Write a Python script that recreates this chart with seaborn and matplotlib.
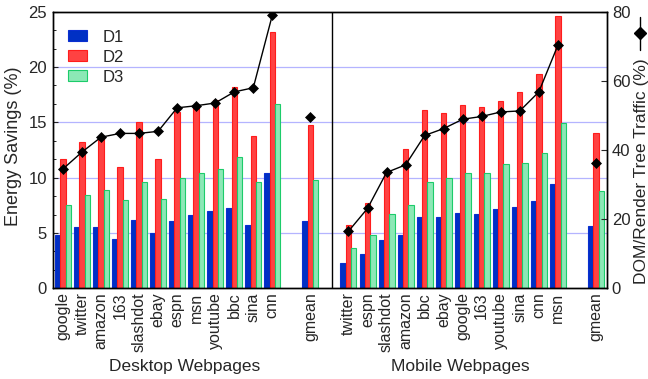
import numpy as np
import pandas as pd
import matplotlib
matplotlib.use("Agg")
import matplotlib.pyplot as plt
from matplotlib.lines import Line2D
from matplotlib.patches import Patch
from matplotlib.ticker import MultipleLocator, FixedLocator
import seaborn as sns

# ---------------- data ----------------
desktop_pages = ['google', 'twitter', 'amazon', '163', 'slashdot', 'ebay', 'espn',
                 'msn', 'youtube', 'bbc', 'sina', 'cnn']
d1_desktop = [4.8, 5.5, 5.5, 4.5, 6.2, 5.0, 6.1, 6.6, 6.95, 7.3, 5.7, 10.4]
d2_desktop = [11.7, 13.2, 13.6, 11.0, 15.0, 11.7, 15.9, 16.6, 17.0, 18.15, 13.8, 23.2]
d3_desktop = [7.5, 8.45, 8.85, 8.0, 9.6, 8.05, 9.95, 10.45, 10.75, 11.85, 9.6, 16.65]
traffic_desktop = [34.5, 39.4, 43.7, 44.8, 44.8, 45.4, 52.2, 52.8, 53.6, 56.8, 58.0, 79.0]
gmean_desktop = [6.1, 14.75, 9.75]
gmean_traffic_desktop = 49.4

mobile_pages = ['twitter', 'espn', 'slashdot', 'amazon', 'bbc', 'ebay', 'google',
                '163', 'youtube', 'sina', 'cnn', 'msn']
d1_mobile = [2.3, 3.1, 4.4, 4.85, 6.4, 6.4, 6.85, 6.75, 7.15, 7.35, 7.9, 9.45]
d2_mobile = [5.7, 7.7, 10.55, 12.55, 16.1, 15.8, 16.6, 16.35, 16.9, 17.7, 19.4, 24.65]
d3_mobile = [3.65, 4.8, 6.75, 7.55, 9.6, 9.95, 10.45, 10.4, 11.25, 11.35, 12.2, 14.95]
traffic_mobile = [16.5, 23.1, 33.5, 35.7, 44.2, 46.2, 48.9, 49.7, 51.0, 51.3, 56.8, 70.3]
gmean_mobile = [5.65, 14.0, 8.75]
gmean_traffic_mobile = 36.2

series = ['D1', 'D2', 'D3']
face_colors = ['#0030c4', '#ff4242', '#8ce8b6']
edge_colors = ['#0a2fd0', '#ff1c1c', '#1ccc6a']

# ---------------- layout positions (slot indices) ----------------
n = len(desktop_pages)
pos_desktop = list(range(n))
pos_gmean_d = n + 1
pos_mobile = [n + 3 + i for i in range(len(mobile_pages))]
pos_gmean_m = pos_mobile[-1] + 2

rows = []
for i, p in enumerate(pos_desktop):
    for s, vals in zip(series, [d1_desktop, d2_desktop, d3_desktop]):
        rows.append((p, s, vals[i]))
for s, v in zip(series, gmean_desktop):
    rows.append((pos_gmean_d, s, v))
for i, p in enumerate(pos_mobile):
    for s, vals in zip(series, [d1_mobile, d2_mobile, d3_mobile]):
        rows.append((p, s, vals[i]))
for s, v in zip(series, gmean_mobile):
    rows.append((pos_gmean_m, s, v))
df = pd.DataFrame(rows, columns=['pos', 'series', 'value'])

# ---------------- style ----------------
sns.set_style('white')
plt.rcParams['font.family'] = ['Liberation Sans', 'DejaVu Sans']

fig = plt.figure(figsize=(6.48, 3.79), dpi=100)
ax = fig.add_axes([53 / 648, 1 - 288.3 / 379, (607 - 53) / 648, (288.3 - 11.7) / 379])

sns.barplot(data=df, x='pos', y='value', hue='series', hue_order=series,
            palette=face_colors, native_scale=True, width=0.84, saturation=1,
            linewidth=0.8, ax=ax, legend=False)
for cont, ec in zip(ax.containers, edge_colors):
    for b in cont:
        b.set_edgecolor(ec)

ax.set_xlim(-0.52, pos_gmean_m + 0.58)
ax.set_ylim(0, 25)
ax.set_axisbelow(True)
ax.grid(False)
for yv in [5, 10, 15, 20]:
    ax.axhline(yv, color='#b4b4ff', lw=0.9, zorder=0)
ax.axvline(n + 2.13, color='black', lw=1.0)

# ticks
centers = pos_desktop + [pos_gmean_d] + pos_mobile + [pos_gmean_m]
labels = desktop_pages + ['gmean'] + mobile_pages + ['gmean']
ax.xaxis.set_major_locator(FixedLocator(centers))
ax.set_xticklabels(labels, rotation=90, fontsize=11.5)
edges = [k - 0.42 for k in range(0, n + 3)] + [k - 0.42 for k in range(n + 3, pos_gmean_m + 2)]
ax.xaxis.set_minor_locator(FixedLocator(edges))
ax.tick_params(axis='x', which='major', length=0, pad=3)
ax.tick_params(axis='x', which='minor', direction='inout', length=4, width=0.8, color='black')
ax.set_xlabel('')
ax.set_ylabel('')

ax.set_yticks([0, 5, 10, 15, 20, 25])
ax.yaxis.set_minor_locator(MultipleLocator(5 / 3))
ax.tick_params(axis='y', which='major', direction='in', length=3.5, width=0.8,
               labelsize=12, pad=4.5, left=True)
ax.tick_params(axis='y', which='minor', direction='in', length=2.2, width=0.7, left=True)

for sp in ax.spines.values():
    sp.set_color('black')
    sp.set_linewidth(1.0)

# secondary axis: traffic line
ax2 = ax.twinx()
mk = dict(marker='D', markersize=4.6, markeredgecolor='black', markeredgewidth=0.5)
sns.lineplot(x=pos_desktop, y=traffic_desktop, ax=ax2, color='black', lw=1.0, **mk)
sns.lineplot(x=pos_mobile, y=traffic_mobile, ax=ax2, color='black', lw=1.0, **mk)
sns.lineplot(x=[pos_gmean_d], y=[gmean_traffic_desktop], ax=ax2, color='black', lw=0, **mk)
sns.lineplot(x=[pos_gmean_m], y=[gmean_traffic_mobile], ax=ax2, color='black', lw=0, **mk)
ax2.set_ylim(0, 80)
ax2.set_yticks([0, 20, 40, 60, 80])
ax2.tick_params(axis='y', direction='in', length=4.5, width=0.8, labelsize=12, pad=3.5, right=True)
ax2.grid(False)
ax2.set_ylabel('')
for sp in ax2.spines.values():
    sp.set_color('black')
    sp.set_linewidth(1.0)

# legend
handles = [Patch(facecolor=fc, edgecolor=ec, linewidth=0.8) for fc, ec in zip(face_colors, edge_colors)]
ax.legend(handles, series, loc='upper left', bbox_to_anchor=(0.027, 0.935),
          frameon=False, fontsize=12, handlelength=1.15, handleheight=0.62,
          handletextpad=0.95, labelspacing=0.3, borderpad=0, borderaxespad=0)

# texts
fig.text(14 / 648, 1 - 146 / 379, 'Energy Savings (%)', rotation=90,
         ha='center', va='center', fontsize=13)
fig.text(641.5 / 648, 1 - 58 / 379, 'DOM/Render Tree Traffic (%)', rotation=90,
         ha='center', va='top', fontsize=12.5)
fig.add_artist(Line2D([640 / 648, 640 / 648], [1 - 17 / 379, 1 - 50 / 379],
                      transform=fig.transFigure, color='black', lw=1.0))
fig.add_artist(Line2D([640 / 648], [1 - 33 / 379], transform=fig.transFigure,
                      color='black', marker='D', markersize=6.5, lw=0))
fig.text(185 / 648, 1 - 367 / 379, 'Desktop Webpages', ha='center', va='center', fontsize=12.5)
fig.text(460 / 648, 1 - 367 / 379, 'Mobile Webpages', ha='center', va='center', fontsize=12.5)

fig.savefig('out.png', dpi=100)
